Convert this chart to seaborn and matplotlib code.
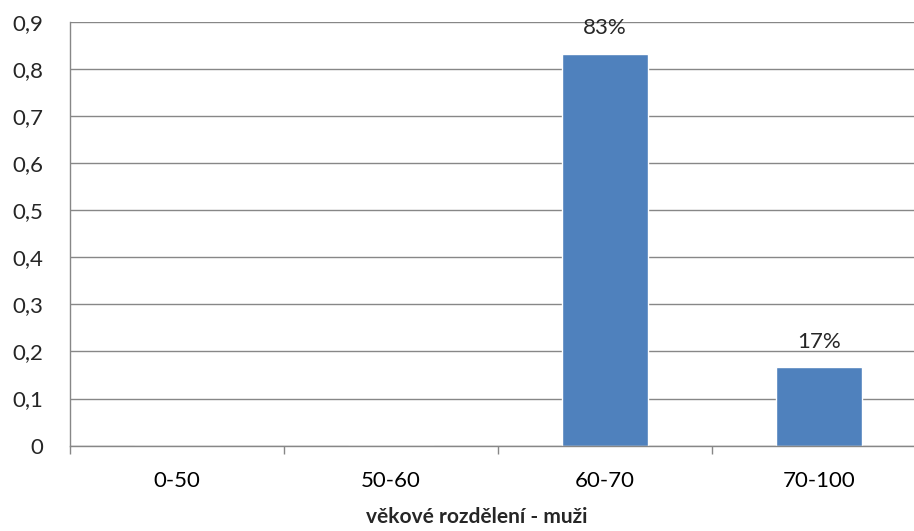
import matplotlib
matplotlib.use("Agg")
import matplotlib.pyplot as plt
import seaborn as sns
import pandas as pd

categories = ["0-50", "50-60", "60-70", "70-100"]
values = [0.0, 0.0, 0.833, 0.167]
labels = ["", "", "83%", "17%"]
yticks = [0, 0.1, 0.2, 0.3, 0.4, 0.5, 0.6, 0.7, 0.8, 0.9]
ytick_labels = ["0", "0,1", "0,2", "0,3", "0,4", "0,5", "0,6", "0,7", "0,8", "0,9"]

sns.set_style("white")
plt.rcParams["font.family"] = ["Lato", "DejaVu Sans"]

df = pd.DataFrame({"cat": categories, "val": values})

fig = plt.figure(figsize=(9.14, 5.31), dpi=100)
ax = fig.add_axes([70 / 914, 85.4 / 531, 856 / 914, 423.6 / 531])
sns.barplot(data=df, x="cat", y="val", color="#4F81BD", saturation=1, width=0.4, ax=ax)

gray = "#878787"
fs = 16
ax.set_ylim(0, 0.9)
ax.set_xlim(-0.5, 3.5)
ax.set_yticks(yticks)
ax.set_yticklabels(ytick_labels)
ax.yaxis.grid(True, color=gray, linewidth=1)
ax.set_axisbelow(True)

ax.set_xticks(range(len(categories)))
ax.set_xticklabels(categories)
ax.set_xticks([-0.5, 0.5, 1.5, 2.5], minor=True)
ax.tick_params(axis="x", which="major", length=0, pad=18, labelsize=fs, colors="black")
ax.tick_params(axis="x", which="minor", length=6, width=1, color=gray, direction="out", bottom=True)
ax.tick_params(axis="y", length=6, width=1, color=gray, direction="out", pad=13, labelsize=fs)

for s in ["top", "right"]:
    ax.spines[s].set_visible(False)
for s in ["left", "bottom"]:
    ax.spines[s].set_color(gray)
    ax.spines[s].set_linewidth(1)

for i, (v, t) in enumerate(zip(values, labels)):
    if t:
        ax.annotate(t, (i, v), xytext=(0, 11), textcoords="offset points",
                    ha="center", va="bottom", fontsize=fs)

ax.set_ylabel("")
ax.set_xlabel("věkové rozdělení - muži", fontsize=15, fontweight="bold")
ax.xaxis.set_label_coords(407 / 856, -0.168)
ax.xaxis.label.set_va("center")

fig.savefig("out.png", dpi=100)
